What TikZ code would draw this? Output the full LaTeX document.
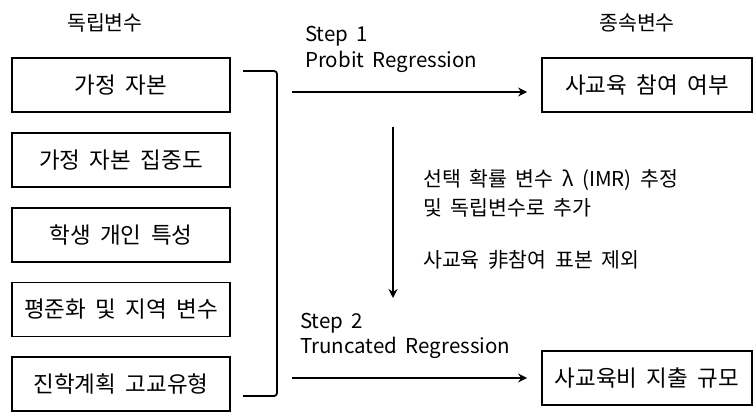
\documentclass[tikz,border=0pt]{standalone}
\usepackage{fontspec}
\setmainfont{Noto Sans CJK KR}
\usetikzlibrary{arrows.meta,positioning}
\newcommand{\wsp}{\spaceskip=0.42em plus 0.1em\relax}
\begin{document}
\begin{tikzpicture}[x=1pt,y=-1pt,
  vbox/.style={draw,line width=1.8pt,minimum height=54pt,inner sep=0pt,font=\fontsize{22.5}{26}\selectfont\wsp},
  lbox/.style={vbox,minimum width=218pt},
  rbox/.style={vbox,minimum width=210pt},
  lab/.style={font=\fontsize{20.5}{24}\selectfont\wsp,inner sep=0pt},
  arr/.style={line width=1.8pt,-{Stealth[length=9pt,width=9pt]}},
  brk/.style={line width=1.8pt,rounded corners=3pt}]
\useasboundingbox (0,0) rectangle (753,412);
\node[lab] (indep) at (105,23) {독립변수};
\node[lab] (dep) at (637,23) {종속변수};
\node[lbox] (b1) at (121,85) {가정 자본};
\node[lbox] (b2) at (121,160) {가정 자본 집중도};
\node[lbox] (b3) at (121,235) {학생 개인 특성};
\node[lbox] (b4) at (121,309.5) {평준화 및 지역 변수};
\node[lbox] (b5) at (121,384) {진학계획 고교유형};
\node[rbox] (r1) at (647,85) {사교육 참여 여부};
\node[rbox] (r2) at (647,378) {사교육비 지출 규모};
\coordinate (bt) at (243,71);
\coordinate (bb) at (243,396);
\draw[brk] (bt) -- (277,71) -- (277,396) -- (bb);
\coordinate (a1) at (292,92);
\coordinate (a2) at (292,378);
\draw[arr,shorten >=14pt] (a1) -- (a1 -| r1.west);
\draw[arr,shorten >=14pt] (a2) -- (a2 -| r2.west);
\coordinate (vs) at (393,127);
\coordinate (ve) at (393,298);
\draw[arr] (vs) -- (ve);
\node[lab,anchor=west] (s1) at (305,36) {Step 1};
\node[lab,anchor=west] (p1) at (305,62) {Probit Regression};
\node[lab,anchor=west] (s2) at (300,323) {Step 2};
\node[lab,anchor=west] (p2) at (300,348) {Truncated Regression};
\node[lab,anchor=west] (m1) at (423,180) {선택 확률 변수 λ (IMR) 추정};
\node[lab,anchor=west] (m2) at (423,208) {및 독립변수로 추가};
\node[lab,anchor=west] (m3) at (423,260) {사교육 非참여 표본 제외};
\end{tikzpicture}
\end{document}
